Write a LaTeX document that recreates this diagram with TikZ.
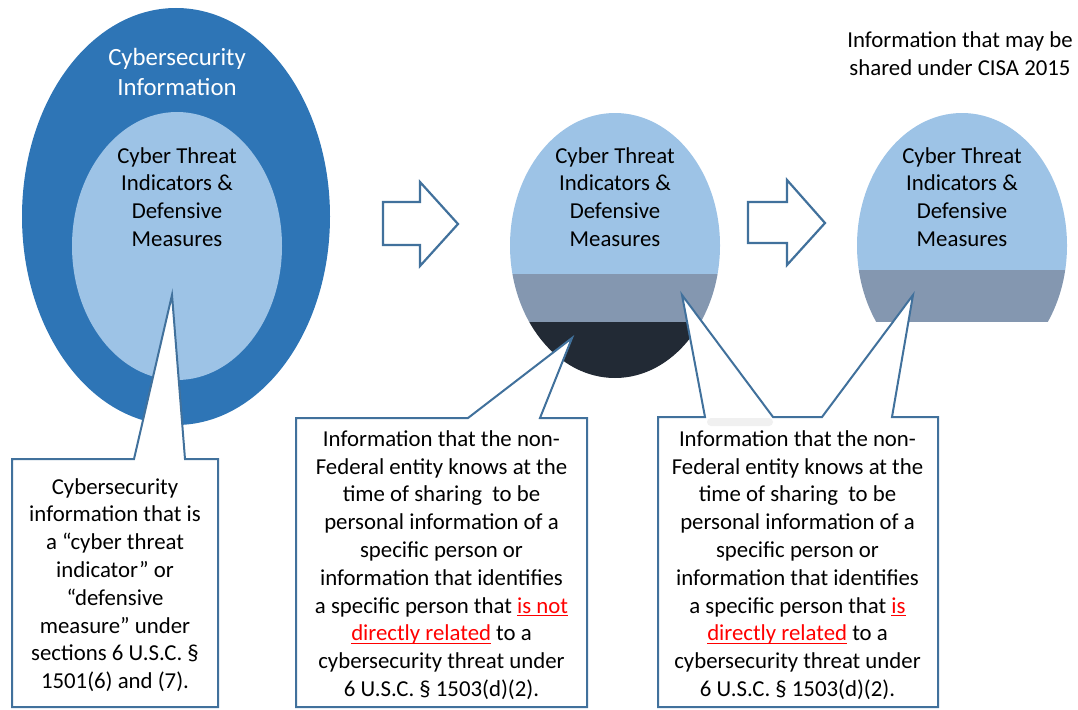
\documentclass[tikz,border=0pt]{standalone}
\usepackage{fontspec}
\setmainfont{Carlito}
\usetikzlibrary{shapes.geometric}
\definecolor{outerblue}{HTML}{2E75B6}
\definecolor{lightblue}{HTML}{9DC3E6}
\definecolor{grayblue}{HTML}{8497B0}
\definecolor{darknavy}{HTML}{222A35}
\definecolor{outl}{HTML}{41719C}
\definecolor{faint}{HTML}{F0F0F0}
\newcommand{\redu}[1]{\textcolor{red}{\setbox0\hbox{#1}\rlap{\rule[-3pt]{\wd0}{1.2pt}}\box0}}
\begin{document}
\begin{tikzpicture}[x=1pt,y=-1pt,
  txt/.style={font=\fontsize{22.8}{27.8}\selectfont, align=center, inner sep=0pt, text=black},
  bigtxt/.style={font=\fontsize{24.8}{30}\selectfont, align=center, inner sep=0pt, text=white},
  oval/.style={ellipse, inner sep=0pt, draw=none},
  callout/.style={draw=outl, line width=2pt, fill=white, line join=miter},
  blockarrow/.style={draw=outl, line width=2.2pt, fill=white, line join=miter}]
\useasboundingbox (0,0) rectangle (1078,709);

% ---- left ellipses
\node[oval, fill=outerblue, minimum width=308pt, minimum height=417pt] (outer) at (176,216.5) {};
\node[oval, fill=lightblue, minimum width=210pt, minimum height=268pt] (inner) at (177,246) {};
\node[bigtxt] (cyberinfo) at (177,71.5) {Cybersecurity\\Information};
\node[txt] (ctileft) at (177,197) {Cyber Threat\\Indicators \&\\Defensive\\Measures};

% ---- middle ellipse with bands
\coordinate (midc) at (615,245.5);
\begin{scope}
  \clip (midc) ellipse [x radius=105, y radius=132.5];
  \fill[lightblue] (500,100) rectangle (730,274);
  \fill[grayblue] (500,274) rectangle (730,322);
  \fill[darknavy] (500,322) rectangle (730,390);
\end{scope}
\node[txt] (ctimid) at (615,197) {Cyber Threat\\Indicators \&\\Defensive\\Measures};

% ---- right ellipse, cut off
\coordinate (rightc) at (962,245.5);
\begin{scope}
  \clip (rightc) ellipse [x radius=105, y radius=132.5];
  \fill[lightblue] (850,100) rectangle (1075,270);
  \fill[grayblue] (850,270) rectangle (1075,322);
\end{scope}
\node[txt] (ctiright) at (962,197) {Cyber Threat\\Indicators \&\\Defensive\\Measures};

% ---- caption top right
\node[txt] (caption) at (960,53.5) {Information that may be\\shared under CISA 2015};

% ---- block arrows
\draw[blockarrow] (383,202) -- (420,202) -- (420,182) -- (458,224) -- (420,266) -- (420,245) -- (383,245) -- cycle;
\draw[blockarrow] (748,202) -- (787,202) -- (787,180) -- (825,223) -- (787,265) -- (787,243) -- (748,243) -- cycle;

% ---- callouts
\draw[callout] (12,459) -- (134,459) -- (172,295) -- (185,459) -- (218,459) -- (218,707) -- (12,707) -- cycle;
\draw[callout] (296,418) -- (468,418) -- (572,338) -- (540,418) -- (587,418) -- (587,707) -- (296,707) -- cycle;
\draw[callout] (658,417) -- (705,417) -- (682,295) -- (773,417) -- (822,417) -- (913,295) -- (892,417) -- (938,417) -- (938,707) -- (658,707) -- cycle;
\fill[faint, rounded corners=4pt] (707,418) rectangle (773,426);

\node[txt] (lefttext) at (115,585) {Cybersecurity\\information that is\\a “cyber threat\\indicator” or\\“defensive\\measure” under\\sections 6 U.S.C. §\\1501(6) and (7).};

\node[txt] (midtext) at (441.5,565) {Information that the non-\\Federal entity knows at the\\time of sharing\ \ to be\\personal information of a\\specific person or\\information that identifies\\a specific person that \redu{is not}\\\redu{directly related} to a\\cybersecurity threat under\\6 U.S.C. § 1503(d)(2).};

\node[txt] (righttext) at (797.5,565) {Information that the non-\\Federal entity knows at the\\time of sharing\ \ to be\\personal information of a\\specific person or\\information that identifies\\a specific person that \redu{is}\\\redu{directly related} to a\\cybersecurity threat under\\6 U.S.C. § 1503(d)(2).};
\end{tikzpicture}
\end{document}
